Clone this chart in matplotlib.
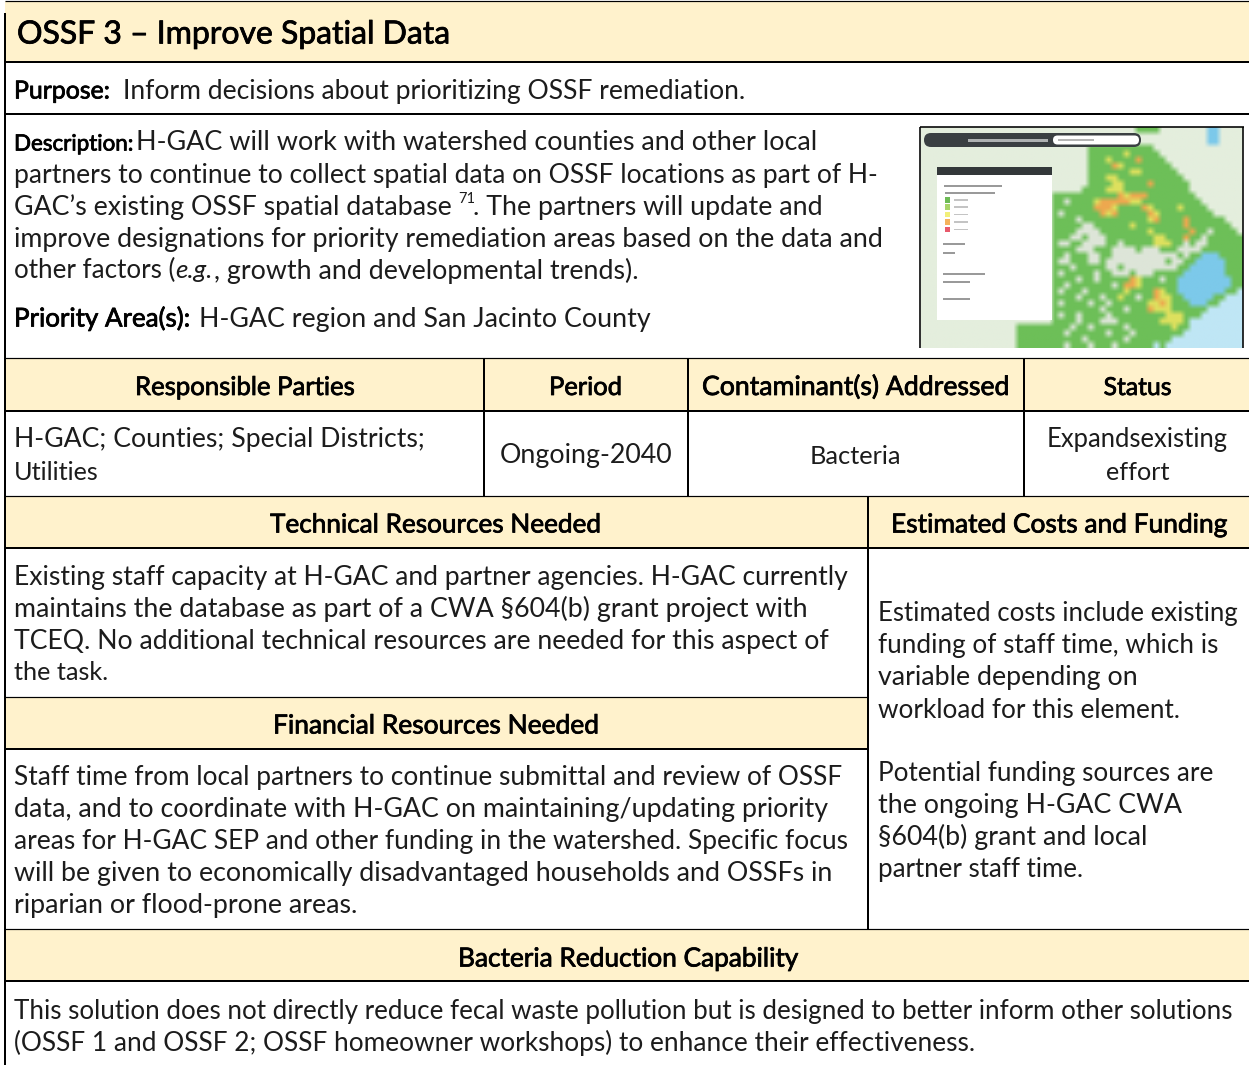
import numpy as np
import matplotlib
matplotlib.use("Agg")
import matplotlib.pyplot as plt
import matplotlib.patheffects as pe
from matplotlib.patches import Rectangle, FancyBboxPatch

FONT = "Lato"
HEADER_FILL = "#FFF2CC"
BODY = "#1c1c1c"

TITLE = "OSSF 3 – Improve Spatial Data"
PURPOSE = ["Purpose:", "Inform decisions about prioritizing OSSF remediation."]
DESC_HEAD = ["Description:", "H-GAC will work with watershed counties and other local"]
DESC_LINES = ["partners to continue to collect spatial data on OSSF locations as part of H-",
              "improve designations for priority remediation areas based on the data and"]
DESC_3 = ["GAC’s existing OSSF spatial database", "71", ". The partners will update and"]
DESC_5 = ["other factors (", "e.g.", ", growth and developmental trends)."]
PRIORITY = ["Priority Area(s):", "H-GAC region and San Jacinto County"]
ROW_HEADS = ["Responsible Parties", "Period", "Contaminant(s) Addressed", "Status"]
PARTIES = ["H-GAC; Counties; Special Districts;", "Utilities"]
PERIOD = "Ongoing-2040"
CONTAM = "Bacteria"
STATUS = ["Expandsexisting", "effort"]
TECH_HEAD = "Technical Resources Needed"
COST_HEAD = "Estimated Costs and Funding"
TECH = ["Existing staff capacity at H-GAC and partner agencies. H-GAC currently",
        "maintains the database as part of a CWA §604(b) grant project with",
        "TCEQ. No additional technical resources are needed for this aspect of",
        "the task."]
FIN_HEAD = "Financial Resources Needed"
FIN = ["Staff time from local partners to continue submittal and review of OSSF",
       "data, and to coordinate with H-GAC on maintaining/updating priority",
       "areas for H-GAC SEP and other funding in the watershed. Specific focus",
       "will be given to economically disadvantaged households and OSSFs in",
       "riparian or flood-prone areas."]
COST = ["Estimated costs include existing", "funding of staff time, which is",
        "variable depending on", "workload for this element.",
        "Potential funding sources are", "the ongoing H-GAC CWA",
        "§604(b) grant and local", "partner staff time."]
BACT_HEAD = "Bacteria Reduction Capability"
BACT = ["This solution does not directly reduce fecal waste pollution but is designed to better inform other solutions",
        "(OSSF 1 and OSSF 2; OSSF homeowner workshops) to enhance their effectiveness."]

# hand-read land cover of the thumbnail, east of the legend panel
MAP_EAST = [
 "llllllllllllllggggllllllllbbllll",
 "llllllllllllllllllllllllllbbllll",
 "llllllllllllllllllllllllllbbllll",
 "llllllggggggggggglllllllllllllll",
 "llllllggggggyggggglllllllllllll",
 "llllllgggyggggoggggllllllllllll",
 "llllllggggoyggggggggllllllllll",
 "llllllgggggggyyggggggllllllll",
 "llllllgggyyggggggggggglllllll",
 "llllllggggyyggggoggggggllllll",
 "lllllggggyyygggggggggggllllll",
 "gggggggggggoyooogggggggglllll",
 "ggwggggyoooooyygggggggggglll",
 "gggggggoooyggggoyggggyggggll",
 "gwggggggoyogggggoyggggggggglll",
 "ggggwgggggggggggyoggggoggggggl",
 "gggggwwggggggyggggggggogggggggll",
 "ggggwwwwggggggggyggggggoggwggggl",
 "gggwwgwwwggggggggyygggoggwgggggg",
 "gwwggwwwwggwgggggyyyggwgwwgggggg",
 "ggggwwwgggwwwwgwwwgggwwwwggggggg",
 "ggwgggwwggwwwwwwwwwwwgwggbbbgggg",
 "gwwgggwwgwwwwwwwwwwgwwggbbbbbggg",
 "gggwgggggwwgwwwwwwwwwggbbbbbbggg",
 "gwgggggwggwwwgwwwgggggbbbbbbbggg",
 "ggggwggwgggggoygggwggbbbbbbbbbgg",
 "ggwgggggggwgooyggggggbbbbbbbbbgg",
 "gwgggwggggggyggggoyggbbbbbbbbggc",
 "ggggwgggwggyggwggoyyggbbbbbggccc",
 "gwggggwggwggggggyyoygggbbbggcccc",
 "ggggggggwgggwgggoyyyggggggcccccc",
 "gwggwggggwgggggggggyyygggccccccc",
 "ggggwgggwwwgggggggyyyygccccccccc",
 "gggwggwgggggwgggggggyggccccccccc",
 "ggwggggggwgggwggggggggcccccccccc",
 "gggggwggggggwgggggggcccccccccccc",
 "ggwgggwgggwggggggcgccccccccccccc",
]
MAP_WEST_TOP = "llllllllllllllllllllll"
MAP_WEST_BOTTOM = "llllllllllllllllgggggg"
MAP_COLORS = {"l": "#E4EEDD", "g": "#6DBF58", "w": "#DDE5D8", "y": "#DDE05E",
              "o": "#EDA84F", "b": "#7CC9EA", "c": "#BFE6F5"}
LEGEND_SWATCHES = ["#6DBB55", "#A8D468", "#F2F07A", "#F5B35C", "#E8596B"]

W, H = 1249, 1065
fig = plt.figure(figsize=(W / 100, H / 100), dpi=100)
ax = fig.add_axes([0, 0, 1, 1])
ax.set_xlim(0, W)
ax.set_ylim(H, 0)
ax.axis("off")
renderer = fig.canvas.get_renderer()


def width_at(s, size, style="normal"):
    t = ax.text(0, 0, s, family=FONT, fontsize=size, style=style)
    w = t.get_window_extent(renderer).width
    t.remove()
    return w


BODY_SIZE = 19.0 * 1221 / width_at(BACT[0], 19.0)
HEAD_SIZE = BODY_SIZE


def fit(s, x0, x1, yc, bold=False, style="normal", center=False, base=None, tol=0.03, dy=0.0):
    """One text run near the base size, spanning x0..x1 as far as that allows."""
    base = base or BODY_SIZE
    w0 = width_at(s, base, style)
    ratio = min(max((x1 - x0) / w0, 1 - tol), 1 + tol)
    size = base * ratio
    w = w0 * ratio
    x = (x0 + x1 - w) / 2 if center else x0
    t = ax.text(x, yc + 9.5 + dy, s, family=FONT, fontsize=size,
                color="black" if bold else BODY, style=style,
                ha="left", va="baseline", zorder=5)
    if bold:
        t.set_path_effects([pe.withStroke(linewidth=0.55, foreground="black")])
    return x + w


def fill(x0, y0, x1, y1, c=HEADER_FILL, z=1):
    ax.add_patch(Rectangle((x0, y0), x1 - x0, y1 - y0, fc=c, ec="none", zorder=z))


def hline(y, x0=5, x1=W, px=2.0):
    ax.plot([x0, x1], [y, y], color="black", lw=px * 0.72, solid_capstyle="butt", zorder=4)


def vline(x, y0, y1, px=2.0):
    ax.plot([x, x], [y0, y1], color="black", lw=px * 0.72, solid_capstyle="butt", zorder=4)


# header fills
fill(5, 1, W, 62)
fill(5, 358, W, 411)
fill(5, 496, W, 548)
fill(5, 697, 868, 749)
fill(5, 929, W, 981)

# rules
hline(1, px=1.2)
for y in (62, 114, 411, 548, 981):
    hline(y)
hline(749, x1=868)
hline(358, px=1.2)
hline(496, px=1.2)
hline(929, px=1.2)
hline(697, x1=868, px=1.2)
vline(5, 13, H)
for x in (484, 688, 1024):
    vline(x, 358, 496)
vline(868, 496, 929)

# text
fit(TITLE, 17, 450, 33, bold=True, base=24.5, tol=0.1, dy=1)
fit(PURPOSE[0], 14, 110, 89, bold=True, tol=0.06)
fit(PURPOSE[1], 123, 745, 89)
fit(DESC_HEAD[0], 14, 124, 141, bold=True, tol=0.14)
fit(DESC_HEAD[1], 136, 825, 141, tol=0.04)
fit(DESC_LINES[0], 14, 878, 173)
fit(DESC_3[0], 14, 456, 205)
ax.text(458, 206, DESC_3[1], family=FONT, fontsize=10.5, color=BODY, va="bottom", zorder=5)
fit(DESC_3[2], 473, 825, 205)
fit(DESC_LINES[1], 14, 884, 237)
xr = fit(DESC_5[0], 14, 14 + width_at(DESC_5[0], BODY_SIZE), 269)
xr = fit(DESC_5[1], xr, xr + width_at(DESC_5[1], BODY_SIZE, "italic"), 269, style="italic")
fit(DESC_5[2], xr + 1, 725, 269)
fit(PRIORITY[0], 14, 190, 317, bold=True, tol=0.06)
fit(PRIORITY[1], 199, 652, 317)

for s, a, b in zip(ROW_HEADS, (135, 549, 702, 1104), (355, 622, 1010, 1171)):
    fit(s, a, b, 385.5, bold=True, center=True, base=HEAD_SIZE, tol=0.05)
fit(PARTIES[0], 14, 424, 438)
fit(PARTIES[1], 14, 98, 470)
fit(PERIOD, 498, 675, 454, center=True)
fit(CONTAM, 810, 902, 454, center=True)
fit(STATUS[0], 1047, 1228, 438, center=True)
fit(STATUS[1], 1107, 1168, 470, center=True)

fit(TECH_HEAD, 270, 602, 523, bold=True, center=True, tol=0.05)
fit(COST_HEAD, 891, 1228, 523, bold=True, center=True, tol=0.05)
for s, b, y in zip(TECH, (848, 807, 829, 108), (575, 607, 639, 671)):
    fit(s, 14, b, y)
fit(FIN_HEAD, 273, 600, 724, bold=True, center=True, tol=0.05)
for s, b, y in zip(FIN, (839, 828, 850, 832, 361), (776, 808, 840, 872, 904)):
    fit(s, 14, b, y)
for s, b, y in zip(COST, (1238, 1219, 1141, 1179, 1214, 1181, 1155, 1083),
                   (612, 644, 676, 708, 772, 804, 836, 868)):
    fit(s, 878, b, y)
fit(BACT_HEAD, 458, 799, 957, bold=True, center=True, tol=0.05)
fit(BACT[0], 14, 1235, 1009)
fit(BACT[1], 14, 975, 1041)

# map thumbnail
rows = []
for i, r in enumerate(MAP_EAST):
    west = MAP_WEST_TOP if i < 33 else MAP_WEST_BOTTOM
    rows.append(west + r.ljust(32, "l")[:32])
img = np.array([[matplotlib.colors.to_rgb(MAP_COLORS[c]) for c in r] for r in rows])
ax.imshow(img, extent=(921, 1243, 348, 127), interpolation="bilinear", aspect="auto", zorder=2)
ax.set_xlim(0, W)
ax.set_ylim(H, 0)
vline(920.5, 127, 348, px=1.6)
vline(1243.5, 127, 348, px=1.6)
hline(127, 920, 1244, px=1.6)
fill(937, 175, 1052, 320, "white", 3)
fill(937, 167, 1052, 175, "#33383A", 3)
ax.add_patch(FancyBboxPatch((924, 133), 217, 14, boxstyle="round,pad=0,rounding_size=7",
                            fc="#3A3F42", ec="none", zorder=3))
ax.add_patch(FancyBboxPatch((1053, 135.5), 86, 9, boxstyle="round,pad=0,rounding_size=4.5",
                            fc="white", ec="none", zorder=3))
fill(968, 139, 1048, 141.5, "#AEB1B2", 3.1)
fill(1058, 139, 1094, 141, "#B5B5B5", 3.1)
for i, c in enumerate(LEGEND_SWATCHES):
    yy = 197 + i * 7.4
    fill(945, yy, 950, yy + 5.5, c, 3.1)
    fill(954, yy + 2, 968, yy + 3.5, "#C4C4C4", 3.1)
for a, b, y in ((944, 1002, 185), (945, 995, 192), (943, 965, 243), (943, 955, 252),
                (943, 985, 273), (943, 970, 281), (943, 970, 298)):
    fill(a, y, b, y + 1.8, "#9A9A9A", 3.1)

fig.savefig("out.png", dpi=100, facecolor="white")
